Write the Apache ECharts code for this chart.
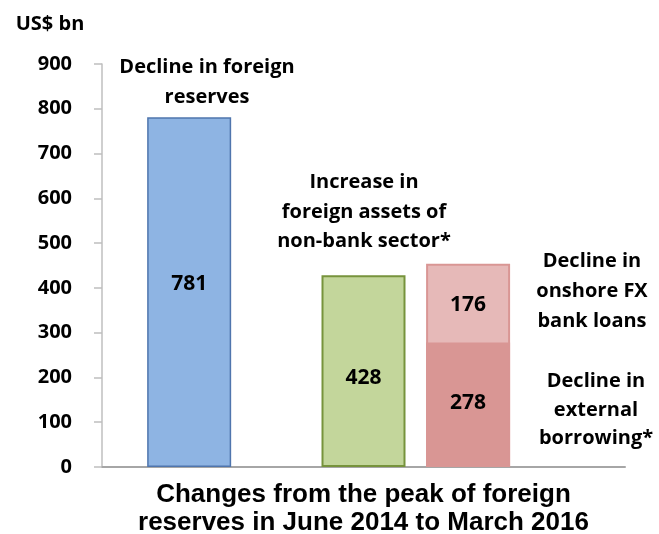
<!DOCTYPE html>
<html style="height: 100%">
<head>
    <meta charset="utf-8">
    <title>Changes from the peak of foreign reserves</title>
    <script src="https://cdn.jsdelivr.net/npm/echarts@6/dist/echarts.min.js"></script>
</head>
<body style="height: 100%; margin: 0; background: #fff">
<div id="chart1" style="width:659px;height:534px"></div>
<script type="text/javascript">
    // bar slots along a hidden value axis (0..6), and the values in US$ bn
    var barNames = ['Decline in foreign reserves', 'Increase in foreign assets of non-bank sector*', 'Decline in external borrowing*'];
    var barSlots = [1, 3, 4.2];
    var barValues = [781, 428, 278];
    var topName = 'Decline in onshore FX bank loans';
    var topSlot = 4.2;
    var topValue = 176;
    var yTicks = [0, 900, 100];

    var font = '"Open Sans", Lato, sans-serif';
    var fills = ['#8eb4e3', '#c3d69b', '#d99694'];
    var borders = ['#4f75ad', '#77933c', '#d99694'];
    var labelOffsets = [[0, -8], [0, 7], [0, -2]];

    var baseData = barValues.map(function (v, i) {
        return {
            name: barNames[i],
            value: [barSlots[i], v],
            itemStyle: {color: fills[i], borderColor: borders[i], borderWidth: i === 0 ? 1.5 : 2},
            label: {offset: labelOffsets[i]}
        };
    });
    // the onshore loans sit on top of external borrowing: draw the full height behind
    var bottomUnder = barValues[barSlots.indexOf(topSlot)];

    var myChart1 = echarts.init(document.getElementById('chart1'));

    myChart1.setOption({
        animation: false,
        grid: {left: 102, right: 34, top: 64, bottom: 67, outerBoundsMode: 'none', containLabel: false},
        xAxis: {
            type: 'value',
            min: 0,
            max: 6,
            axisLine: {show: true, lineStyle: {color: '#a6a6a6', width: 2}},
            axisTick: {show: false},
            axisLabel: {show: false},
            splitLine: {show: false},
            name: 'Changes from the peak of foreign\nreserves in June 2014 to March 2016',
            nameLocation: 'middle',
            nameGap: 14,
            nameTextStyle: {
                fontFamily: '"Liberation Sans", Arial, sans-serif',
                fontWeight: 'bold',
                fontSize: 26,
                lineHeight: 28,
                color: '#000'
            }
        },
        yAxis: {
            type: 'value',
            min: yTicks[0],
            max: yTicks[1],
            interval: yTicks[2],
            axisLine: {show: true, lineStyle: {color: '#bfbfbf', width: 1.5}},
            axisTick: {show: true, length: 8, lineStyle: {color: '#bfbfbf', width: 1.5}},
            axisLabel: {margin: 30, fontFamily: font, fontWeight: 'bold', fontSize: 20, color: '#000'},
            splitLine: {show: false}
        },
        series: [
            {
                type: 'bar',
                barWidth: 84,
                barGap: '-100%',
                data: [{
                    name: topName,
                    value: [topSlot, bottomUnder + topValue],
                    itemStyle: {color: '#e6b9b8', borderColor: '#d99694', borderWidth: 2}
                }],
                label: {
                    show: true,
                    position: ['50%', 41],
                    align: 'center',
                    verticalAlign: 'middle',
                    fontFamily: font,
                    fontWeight: 'bold',
                    fontSize: 21,
                    color: '#000',
                    formatter: function () { return topValue; }
                }
            },
            {
                type: 'bar',
                barWidth: 84,
                barGap: '-100%',
                data: baseData,
                label: {
                    show: true,
                    position: 'inside',
                    fontFamily: font,
                    fontWeight: 'bold',
                    fontSize: 21,
                    color: '#000',
                    formatter: function (p) { return p.value[1]; }
                }
            }
        ],
        graphic: [
            {type: 'text', x: 50, y: 24, style: {text: 'US$ bn', font: 'bold 20px ' + font, fill: '#000', align: 'center', verticalAlign: 'middle'}},
            {type: 'text', x: 207, y: 82, style: {text: 'Decline in foreign\nreserves', font: 'bold 20px ' + font, lineHeight: 30, fill: '#000', align: 'center', verticalAlign: 'middle'}},
            {type: 'text', x: 364, y: 212, style: {text: 'Increase in\nforeign assets of\nnon-bank sector*', font: 'bold 20px ' + font, lineHeight: 29.5, fill: '#000', align: 'center', verticalAlign: 'middle'}},
            {type: 'text', x: 592, y: 291, style: {text: 'Decline in\nonshore FX\nbank loans', font: 'bold 20px ' + font, lineHeight: 30, fill: '#000', align: 'center', verticalAlign: 'middle'}},
            {type: 'text', x: 596, y: 410, style: {text: 'Decline in\nexternal\nborrowing*', font: 'bold 20px ' + font, lineHeight: 28.5, fill: '#000', align: 'center', verticalAlign: 'middle'}}
        ]
    });
</script>
</body>
</html>
